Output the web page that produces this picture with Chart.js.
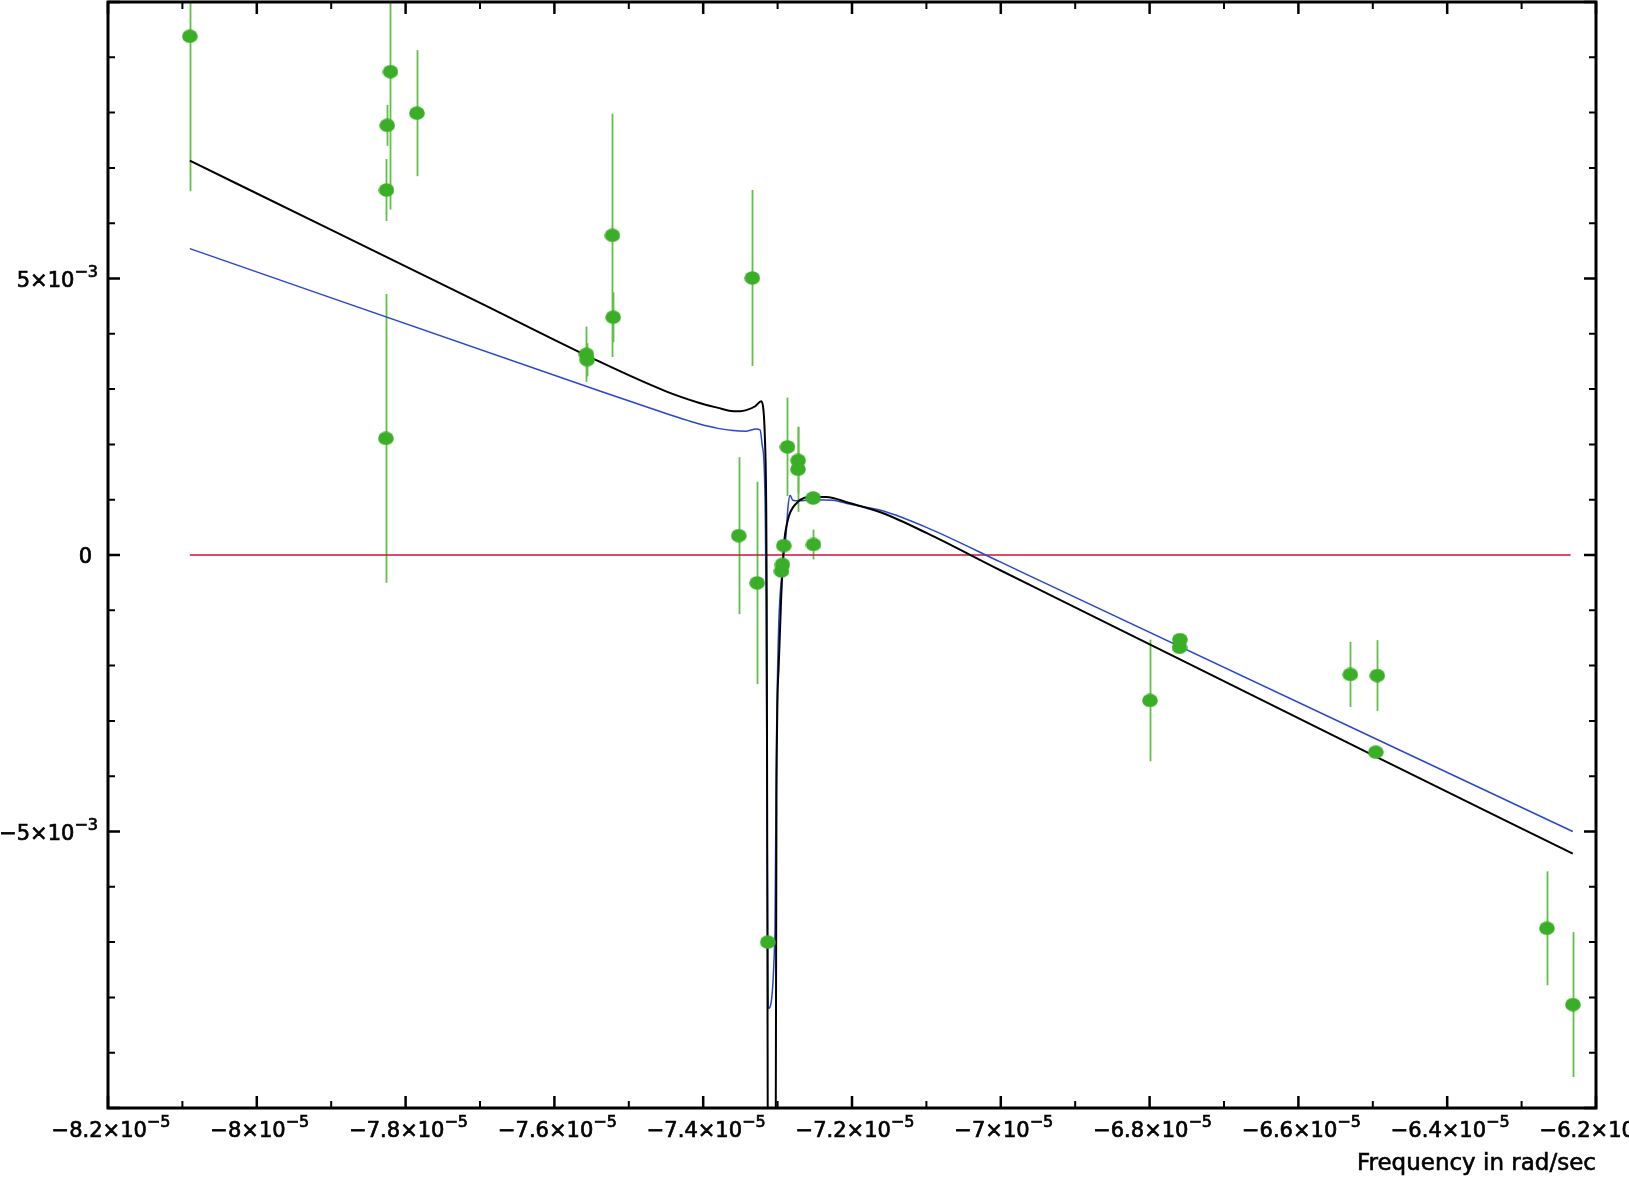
<!DOCTYPE html>
<html><head><meta charset="utf-8">
<script src="https://cdn.jsdelivr.net/npm/chart.js@4"></script>
<style>html,body{margin:0;padding:0;background:#fff;}</style>
</head><body>
<canvas id="c" width="1629" height="1182"></canvas>
<script>
// ---- measured data points (frequency in rad/sec, residual, error) ----
const pointFreq = [-8.090e-5, -7.8265e-5, -7.8257e-5, -7.8247e-5, -7.8203e-5, -7.7848e-5,
  -7.557e-5, -7.556e-5, -7.522e-5, -7.521e-5, -7.3523e-5, -7.334e-5, -7.3275e-5, -7.3132e-5,
  -7.2948e-5, -7.2935e-5, -7.2917e-5, -7.2867e-5, -7.2724e-5, -7.2726e-5, -7.2522e-5, -7.2518e-5,
  -6.7995e-5, -6.7598e-5, -6.7593e-5, -6.5303e-5, -6.4960e-5, -6.4940e-5, -6.266e-5, -6.231e-5];
const pointResid = [9.38e-3, 2.11e-3, 6.60e-3, 7.77e-3, 8.74e-3, 7.99e-3,
  3.63e-3, 3.53e-3, 5.78e-3, 4.30e-3, 0.35e-3, 5.01e-3, -0.505e-3, -7.0e-3,
  -0.29e-3, -0.17e-3, 0.17e-3, 1.955e-3, 1.71e-3, 1.55e-3, 1.03e-3, 0.19e-3,
  -2.63e-3, -1.67e-3, -1.53e-3, -2.16e-3, -3.565e-3, -2.18e-3, -6.75e-3, -8.13e-3];
const pointErr = [2.8e-3, 2.61e-3, 0.56e-3, 0.37e-3, 2.49e-3, 1.14e-3,
  0.5e-3, 0.3e-3, 2.2e-3, 0.45e-3, 1.42e-3, 1.59e-3, 1.83e-3, 0,
  0.05e-3, 0.05e-3, 0.05e-3, 0.89e-3, 0.6e-3, 0.77e-3, 0.1e-3, 0.27e-3,
  1.1e-3, 0.1e-3, 0.1e-3, 0.59e-3, 0.1e-3, 0.64e-3, 1.03e-3, 1.31e-3];

// ---- black model curve ----
const blackFreq = [-8.090e-5, -7.900e-5, -7.700e-5, -7.540e-5, -7.450e-5, -7.405e-5,
  -7.380e-5, -7.365e-5, -7.350e-5, -7.342e-5, -7.330e-5, -7.322e-5, -7.319e-5, -7.3173e-5,
  -7.3154e-5, -7.3146e-5, -7.3132e-5, -7.308e-5, -7.3025e-5, -7.3015e-5, -7.2985e-5, -7.2953e-5,
  -7.2917e-5, -7.2863e-5, -7.2751e-5, -7.2527e-5, -7.2348e-5, -7.2034e-5, -7.159e-5,
  -7.100e-5, -7.000e-5, -6.934e-5, -6.500e-5, -6.2312e-5];
const blackVal = [7.13e-3, 5.88e-3, 4.56e-3, 3.50e-3, 2.96e-3, 2.75e-3,
  2.66e-3, 2.61e-3, 2.60e-3, 2.62e-3, 2.69e-3, 2.78e-3, 2.62e-3, 2.20e-3,
  0.99e-3, -0.81e-3, -10.5e-3, -30e-3, -10.5e-3, -4.4e-3, -2.0e-3, -0.81e-3,
  0.15e-3, 0.63e-3, 0.93e-3, 1.05e-3, 1.05e-3, 0.94e-3, 0.76e-3,
  0.40e-3, -0.28e-3, -0.72e-3, -3.62e-3, -5.40e-3];

// ---- blue model curve ----
const blueFreq = [-8.090e-5, -7.540e-5, -7.450e-5, -7.420e-5, -7.405e-5, -7.380e-5, -7.360e-5, -7.342e-5, -7.329e-5,
  -7.3235e-5, -7.321e-5, -7.318e-5, -7.3165e-5, -7.3155e-5, -7.3140e-5, -7.3125e-5, -7.3035e-5,
  -7.3020e-5, -7.2990e-5, -7.2930e-5, -7.2885e-5, -7.2860e-5, -7.2832e-5, -7.2796e-5, -7.2706e-5,
  -7.2527e-5, -7.2258e-5, -7.2034e-5, -7.159e-5, -7.100e-5, -7.000e-5, -6.934e-5, -6.2312e-5];
const blueVal = [5.54e-3, 2.97e-3, 2.56e-3, 2.43e-3, 2.37e-3, 2.29e-3, 2.25e-3, 2.24e-3, 2.28e-3,
  2.26e-3, 2.02e-3, 1.59e-3, 0.69e-3, -0.81e-3, -5.0e-3, -8.2e-3, -6.8e-3,
  -4.0e-3, -1.5e-3, -0.2e-3, 0.39e-3, 0.87e-3, 1.08e-3, 0.99e-3, 0.98e-3,
  1.00e-3, 0.99e-3, 0.92e-3, 0.80e-3, 0.50e-3, -0.13e-3, -0.55e-3, -5.0e-3];

// ---- zero reference line ----
const zeroFreq = [-8.090e-5, -6.234e-5];
const zeroVal = [0, 0];

// ---- axis ticks / labels ----
const xMin = -8.2e-5, xMax = -6.2e-5, yMin = -0.01, yMax = 0.01;
const xTickValues = [-8.2e-5, -8.0e-5, -7.8e-5, -7.6e-5, -7.4e-5, -7.2e-5, -7.0e-5, -6.8e-5, -6.6e-5, -6.4e-5, -6.2e-5];
const xTickMant = ['\u22128.2\u00d710', '\u22128\u00d710', '\u22127.8\u00d710', '\u22127.6\u00d710', '\u22127.4\u00d710', '\u22127.2\u00d710', '\u22127\u00d710', '\u22126.8\u00d710', '\u22126.6\u00d710', '\u22126.4\u00d710', '\u22126.2\u00d710'];
const xTickExp = ['\u22125','\u22125','\u22125','\u22125','\u22125','\u22125','\u22125','\u22125','\u22125','\u22125','\u22125'];
const yTickValues = [5e-3, 0, -5e-3];
const yTickMant = ['5\u00d710', '0', '\u22125\u00d710'];
const yTickExp = ['\u22123', '', '\u22123'];
const xTitle = 'Frequency in rad/sec';

const toXY = (xs, ys) => xs.map((x, i) => ({x: x, y: ys[i]}));

// ellipse marker
const marker = document.createElement('canvas');
marker.width = 16; marker.height = 14;
{ const m = marker.getContext('2d'); m.fillStyle = 'rgb(58,174,38)'; m.beginPath();
  m.ellipse(8, 7, 7.8, 6.8, 0, 0, Math.PI * 2); m.fill(); }

const FONT = '"DejaVu Sans", sans-serif';
function sciWidth(ctx, mant, exp) {
  ctx.font = '21px ' + FONT; const wm = ctx.measureText(mant).width;
  ctx.font = '16px ' + FONT; const we = exp ? ctx.measureText(exp).width : 0;
  return [wm, we];
}
function txt(ctx, s, x, y) { ctx.fillText(s, x, y); ctx.strokeText(s, x, y); }
function drawSci(ctx, mant, exp, left, baseline) {
  ctx.textAlign = 'left'; ctx.textBaseline = 'alphabetic';
  ctx.lineWidth = 0.7;
  ctx.font = '21px ' + FONT; txt(ctx, mant, left, baseline);
  const wm = ctx.measureText(mant).width;
  if (exp) { ctx.font = '16px ' + FONT; txt(ctx, exp, left + wm, baseline - 10); }
}

const framePlugin = {
  id: 'frame',
  beforeDatasetsDraw(chart) {
    const ctx = chart.ctx, xs = chart.scales.x, ys = chart.scales.y, a = chart.chartArea;
    ctx.save();
    ctx.beginPath(); ctx.rect(a.left, a.top, a.right - a.left, a.bottom - a.top); ctx.clip();
    ctx.strokeStyle = 'rgb(96,192,70)'; ctx.lineWidth = 1.8;
    pointFreq.forEach((f, i) => {
      if (!pointErr[i]) return;
      const px = Math.round(xs.getPixelForValue(f)) + 0.5;
      ctx.beginPath();
      ctx.moveTo(px, ys.getPixelForValue(pointResid[i] + pointErr[i]));
      ctx.lineTo(px, ys.getPixelForValue(pointResid[i] - pointErr[i]));
      ctx.stroke();
    });
    ctx.restore();
  },
  afterDraw(chart) {
    const ctx = chart.ctx, xs = chart.scales.x, ys = chart.scales.y, a = chart.chartArea;
    ctx.save();
    ctx.strokeStyle = '#000'; ctx.fillStyle = '#000';
    for (let i = 0; i <= 20; i++) {
      const v = (-82 + i) * 1e-6; const px = xs.getPixelForValue(v);
      const major = i % 2 === 0; const L = major ? 12 : 7;
      ctx.lineWidth = major ? 2.5 : 2;
      ctx.beginPath(); ctx.moveTo(px, a.bottom); ctx.lineTo(px, a.bottom - L);
      ctx.moveTo(px, a.top); ctx.lineTo(px, a.top + L); ctx.stroke();
    }
    for (let j = 0; j <= 20; j++) {
      const v = (-10 + j) * 1e-3; const py = ys.getPixelForValue(v);
      const major = j % 5 === 0; const L = major ? 12 : 7;
      ctx.lineWidth = major ? 2.5 : 2;
      ctx.beginPath(); ctx.moveTo(a.left, py); ctx.lineTo(a.left + L, py);
      ctx.moveTo(a.right, py); ctx.lineTo(a.right - L, py); ctx.stroke();
    }
    ctx.lineWidth = 3;
    ctx.strokeRect(a.left, a.top, a.right - a.left, a.bottom - a.top);
    xTickValues.forEach((v, i) => {
      const px = xs.getPixelForValue(v);
      const [wm, we] = sciWidth(ctx, xTickMant[i], xTickExp[i]);
      drawSci(ctx, xTickMant[i], xTickExp[i], px + 3 - (wm + we) / 2, a.bottom + 29);
    });
    yTickValues.forEach((v, i) => {
      const py = ys.getPixelForValue(v);
      const [wm, we] = sciWidth(ctx, yTickMant[i], yTickExp[i]);
      const right = yTickExp[i] ? a.left - 10 : a.left - 16;
      drawSci(ctx, yTickMant[i], yTickExp[i], right - wm - we, py + 8);
    });
    ctx.font = '23px ' + FONT; ctx.textAlign = 'right'; ctx.textBaseline = 'alphabetic';
    ctx.lineWidth = 0.6;
    txt(ctx, xTitle, a.right, 1170);
    ctx.restore();
  }
};

new Chart(document.getElementById('c'), {
  type: 'scatter',
  data: {
    datasets: [
      { label: 'data', data: toXY(pointFreq, pointResid), pointStyle: marker, pointRadius: 7,
        showLine: false, borderWidth: 0 },
      { label: 'model', data: toXY(blackFreq, blackVal), showLine: true, pointRadius: 0,
        borderColor: '#000', borderWidth: 2, cubicInterpolationMode: 'monotone' },
      { label: 'model2', data: toXY(blueFreq, blueVal), showLine: true, pointRadius: 0,
        borderColor: 'rgb(40,70,205)', borderWidth: 1.5, cubicInterpolationMode: 'monotone' },
      { label: 'zero', data: toXY(zeroFreq, zeroVal), showLine: true, pointRadius: 0,
        borderColor: 'rgb(205,20,55)', borderWidth: 1.5 }
    ]
  },
  options: {
    responsive: false, animation: false, devicePixelRatio: 1,
    layout: { autoPadding: false, padding: { left: 0, right: 33, top: 2, bottom: 0 } },
    plugins: { legend: { display: false }, tooltip: { enabled: false } },
    scales: {
      x: { type: 'linear', min: xMin, max: xMax, ticks: { display: false },
           grid: { display: false }, border: { display: false },
           afterFit: s => { s.height = 74; } },
      y: { type: 'linear', min: yMin, max: yMax, ticks: { display: false },
           grid: { display: false }, border: { display: false },
           afterFit: s => { s.width = 108; } }
    }
  },
  plugins: [framePlugin]
});
</script>
</body></html>
